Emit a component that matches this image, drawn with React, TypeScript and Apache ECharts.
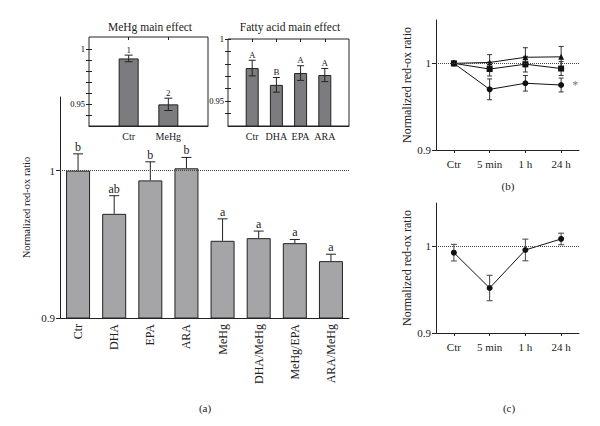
import React, { useEffect, useRef } from 'react';
import * as echarts from 'echarts';

const FONT = "'Liberation Serif', 'Times New Roman', serif";
const INK = '#222';

// Panel (a) main chart
const mainCategories = ['Ctr', 'DHA', 'EPA', 'ARA', 'MeHg', 'DHA/MeHg', 'MeHg/EPA', 'ARA/MeHg'];
const mainValues = [1.0, 0.9707, 0.9934, 1.0016, 0.9524, 0.9542, 0.9508, 0.9386];
const mainErrors = [0.0114, 0.0123, 0.0126, 0.0074, 0.0149, 0.0048, 0.0025, 0.0047];
const mainLetters = ['b', 'ab', 'b', 'b', 'a', 'a', 'a', 'a'];

// Inset: MeHg main effect
const inset1Categories = ['Ctr', 'MeHg'];
const inset1Values = [0.9915, 0.9497];
const inset1Errors = [0.003, 0.0056];
const inset1Letters = ['1', '2'];

// Inset: Fatty acid main effect
const inset2Categories = ['Ctr', 'DHA', 'EPA', 'ARA'];
const inset2Values = [0.9766, 0.9631, 0.9726, 0.971];
const inset2Errors = [0.0063, 0.0059, 0.0059, 0.0053];
const inset2Letters = ['A', 'B', 'A', 'A'];

// Panels (b) and (c)
const timeCategories = ['Ctr', '5 min', '1 h', '24 h'];
const bTriangleValues = [1.0, 1.001, 1.007, 1.0075];
const bTriangleErrors = [0, 0.009, 0.011, 0.012];
const bSquareValues = [1.0, 0.9934, 0.999, 0.994];
const bSquareErrors = [0, 0.008, 0.009, 0.008];
const bCircleValues = [1.0, 0.97, 0.977, 0.975];
const bCircleErrors = [0, 0.012, 0.009, 0.008];
const bCircleMarks = ['', '', '', '*'];
const cValues = [0.9927, 0.9519, 0.9958, 1.0085];
const cErrors = [0.0096, 0.0147, 0.0125, 0.0067];

const yTickValues = [0.9, 1];
const insetYLabels = [0.95, 1];
const insetMinorTicks = [0.94, 0.95, 0.96, 0.97, 0.98, 0.99, 1.0];

const fmtNum = (v: number) => (Math.abs(v - 1) < 1e-9 ? '1' : String(Math.round(v * 100) / 100));

function errRender(capW: number, mode: 'up' | 'both', letters?: string[], letterSize = 11, color = INK) {
  return (params: any, api: any) => {
    const x = api.value(0);
    const y = api.value(1);
    const e = api.value(2);
    const pTop = api.coord([x, y + e]);
    const pBot = api.coord([x, mode === 'up' ? y : y - e]);
    const style = { stroke: color, lineWidth: 1 };
    const children: any[] = [];
    if (e > 0) {
      children.push({ type: 'line', shape: { x1: pTop[0], y1: pTop[1], x2: pBot[0], y2: pBot[1] }, style });
      children.push({ type: 'line', shape: { x1: pTop[0] - capW / 2, y1: pTop[1], x2: pTop[0] + capW / 2, y2: pTop[1] }, style });
      if (mode === 'both') {
        children.push({ type: 'line', shape: { x1: pBot[0] - capW / 2, y1: pBot[1], x2: pBot[0] + capW / 2, y2: pBot[1] }, style });
      }
    }
    if (letters) {
      children.push({
        type: 'text',
        x: pTop[0],
        y: pTop[1] - 1,
        style: { text: letters[params.dataIndex], align: 'center', verticalAlign: 'bottom', fontFamily: FONT, fontSize: letterSize, fill: INK },
      });
    }
    return { type: 'group', children };
  };
}

const dottedOne = {
  silent: true,
  symbol: ['none', 'none'],
  label: { show: false },
  lineStyle: { type: 'dotted', color: '#444', width: 1 },
  data: [{ yAxis: 1 }],
};

const axisLineStyle = { lineStyle: { color: INK, width: 1 } };

function mainYAxis(gridIndex: number, nameGap: number, nameSize: number) {
  return {
    gridIndex,
    type: 'value',
    min: 0.9,
    max: 1.05,
    name: 'Normalized red-ox ratio',
    nameLocation: 'middle',
    nameGap,
    nameTextStyle: { fontFamily: FONT, fontSize: nameSize, color: INK },
    axisLine: { show: true, ...axisLineStyle },
    axisTick: { show: true, customValues: yTickValues, length: 4, lineStyle: { color: INK } },
    axisLabel: { customValues: yTickValues, formatter: fmtNum, fontFamily: FONT, fontSize: 11, color: INK, margin: 5 },
    splitLine: { show: false },
  };
}

function timeXAxis(gridIndex: number) {
  return {
    gridIndex,
    type: 'category',
    data: timeCategories,
    axisLine: { show: true, ...axisLineStyle },
    axisTick: { show: true, alignWithLabel: true, length: 3, lineStyle: { color: INK } },
    axisLabel: { fontFamily: FONT, fontSize: 11, color: INK, margin: 8 },
  };
}

function insetX(gridIndex: number, max: number, cats: string[], top: boolean) {
  const pos = cats.map((_, i) => i + 1);
  return {
    gridIndex,
    type: 'value',
    position: top ? 'top' : 'bottom',
    min: 0,
    max,
    axisLine: { show: !top, ...axisLineStyle },
    axisTick: top ? { show: true, inside: true, length: 3, customValues: pos, lineStyle: { color: INK } } : { show: false },
    axisLabel: top
      ? { show: false }
      : { customValues: pos, formatter: (v: number) => cats[Math.round(v) - 1] ?? '', fontFamily: FONT, fontSize: 10, color: INK, margin: 5 },
    splitLine: { show: false },
  };
}

function insetY(gridIndex: number, min: number, max: number, right: boolean) {
  return {
    gridIndex,
    type: 'value',
    position: right ? 'right' : 'left',
    min,
    max,
    axisLine: { show: false, ...axisLineStyle },
    axisTick: { show: true, inside: true, length: 3, customValues: insetMinorTicks.filter((v) => v >= min && v <= max), lineStyle: { color: INK } },
    axisLabel: right
      ? { show: false }
      : { customValues: insetYLabels, formatter: fmtNum, fontFamily: FONT, fontSize: 8.5, color: '#000', margin: 4 },
    splitLine: { show: false },
  };
}

const lineCommon = {
  symbolSize: 6,
  itemStyle: { color: '#111' },
  lineStyle: { color: '#111', width: 1 },
};

const option: any = {
  animation: false,
  backgroundColor: '#fff',
  color: ['#222'],
  textStyle: { fontFamily: FONT, color: INK },
  grid: [
    { left: 60, top: 97, width: 289, height: 221 },
    { left: 89, top: 37, width: 119, height: 89, show: true, borderColor: INK, borderWidth: 1, backgroundColor: '#fff' },
    { left: 228, top: 39, width: 121, height: 87, show: true, borderColor: INK, borderWidth: 1, backgroundColor: '#fff' },
    { left: 436, top: 20, width: 143, height: 130 },
    { left: 436, top: 203, width: 143, height: 130 },
  ],
  xAxis: [
    {
      gridIndex: 0,
      type: 'category',
      data: mainCategories,
      axisLine: { show: true, ...axisLineStyle },
      axisTick: { show: false },
      axisLabel: { rotate: 90, interval: 0, fontFamily: FONT, fontSize: 12, color: INK, margin: 6 },
    },
    insetX(1, 3, inset1Categories, false),
    insetX(2, 5, inset2Categories, false),
    timeXAxis(3),
    timeXAxis(4),
    insetX(1, 3, inset1Categories, true),
    insetX(2, 5, inset2Categories, true),
  ],
  yAxis: [
    mainYAxis(0, 28, 10.5),
    insetY(1, 0.93, 1.011, false),
    insetY(2, 0.93, 1.0, false),
    mainYAxis(3, 19, 12),
    mainYAxis(4, 19, 12),
    insetY(1, 0.93, 1.011, true),
    insetY(2, 0.93, 1.0, true),
  ],
  series: [
    {
      type: 'bar',
      xAxisIndex: 0,
      yAxisIndex: 0,
      data: mainValues,
      barWidth: 24,
      itemStyle: { color: '#a5a5a7', borderColor: INK, borderWidth: 1 },
      markLine: dottedOne,
    },
    {
      type: 'custom',
      xAxisIndex: 0,
      yAxisIndex: 0,
      data: mainValues.map((v, i) => [i, v, mainErrors[i]]),
      renderItem: errRender(10, 'up', mainLetters, 12),
      z: 5,
    },
    {
      type: 'bar',
      xAxisIndex: 1,
      yAxisIndex: 1,
      data: inset1Values.map((v, i) => [i + 1, v]),
      barWidth: 20,
      itemStyle: { color: '#7c7c7e', borderColor: INK, borderWidth: 1 },
    },
    {
      type: 'custom',
      xAxisIndex: 1,
      yAxisIndex: 1,
      data: inset1Values.map((v, i) => [i + 1, v, inset1Errors[i]]),
      renderItem: errRender(8, 'both', inset1Letters, 9),
      z: 5,
    },
    {
      type: 'bar',
      xAxisIndex: 2,
      yAxisIndex: 2,
      data: inset2Values.map((v, i) => [i + 1, v]),
      barWidth: 13,
      itemStyle: { color: '#7c7c7e', borderColor: INK, borderWidth: 1 },
    },
    {
      type: 'custom',
      xAxisIndex: 2,
      yAxisIndex: 2,
      data: inset2Values.map((v, i) => [i + 1, v, inset2Errors[i]]),
      renderItem: errRender(7, 'both', inset2Letters, 9),
      z: 5,
    },
    {
      type: 'line',
      xAxisIndex: 3,
      yAxisIndex: 3,
      data: bCircleValues.map((v, i) =>
        bCircleMarks[i]
          ? { value: v, label: { show: true, formatter: bCircleMarks[i], position: 'right', distance: 8, color: '#777', fontSize: 12, fontFamily: FONT } }
          : v
      ),
      symbol: 'circle',
      ...lineCommon,
      markLine: dottedOne,
    },
    { type: 'line', xAxisIndex: 3, yAxisIndex: 3, data: bSquareValues, symbol: 'rect', ...lineCommon },
    { type: 'line', xAxisIndex: 3, yAxisIndex: 3, data: bTriangleValues, symbol: 'triangle', ...lineCommon },
    {
      type: 'custom',
      xAxisIndex: 3,
      yAxisIndex: 3,
      data: bCircleValues.map((v, i) => [i, v, bCircleErrors[i]]),
      renderItem: errRender(5, 'both', undefined, 9, '#333'),
      z: 1,
    },
    {
      type: 'custom',
      xAxisIndex: 3,
      yAxisIndex: 3,
      data: bSquareValues.map((v, i) => [i, v, bSquareErrors[i]]),
      renderItem: errRender(5, 'both', undefined, 9, '#333'),
      z: 1,
    },
    {
      type: 'custom',
      xAxisIndex: 3,
      yAxisIndex: 3,
      data: bTriangleValues.map((v, i) => [i, v, bTriangleErrors[i]]),
      renderItem: errRender(5, 'both', undefined, 9, '#333'),
      z: 1,
    },
    {
      type: 'line',
      xAxisIndex: 4,
      yAxisIndex: 4,
      data: cValues,
      symbol: 'circle',
      ...lineCommon,
      markLine: dottedOne,
    },
    {
      type: 'custom',
      xAxisIndex: 4,
      yAxisIndex: 4,
      data: cValues.map((v, i) => [i, v, cErrors[i]]),
      renderItem: errRender(6, 'both', undefined, 9, '#444'),
      z: 1,
    },
  ],
  graphic: [
    { type: 'text', x: 150, y: 27, style: { text: 'MeHg main effect', align: 'center', verticalAlign: 'middle', fontFamily: FONT, fontSize: 11.5, fill: INK } },
    { type: 'text', x: 290, y: 27, style: { text: 'Fatty acid main effect', align: 'center', verticalAlign: 'middle', fontFamily: FONT, fontSize: 11.5, fill: INK } },
    { type: 'text', x: 205, y: 408, style: { text: '(a)', align: 'center', verticalAlign: 'middle', fontFamily: FONT, fontSize: 11, fill: INK } },
    { type: 'text', x: 508, y: 186, style: { text: '(b)', align: 'center', verticalAlign: 'middle', fontFamily: FONT, fontSize: 11, fill: INK } },
    { type: 'text', x: 509, y: 408, style: { text: '(c)', align: 'center', verticalAlign: 'middle', fontFamily: FONT, fontSize: 11, fill: INK } },
  ],
};

export default function App() {
  const ref = useRef<HTMLDivElement>(null);
  useEffect(() => {
    if (!ref.current) return;
    const chart = echarts.init(ref.current, undefined, { renderer: 'svg' });
    chart.setOption(option);
    return () => chart.dispose();
  }, []);
  return <div ref={ref} style={{ position: 'fixed', left: 0, top: 0, width: 600, height: 426 }} />;
}
